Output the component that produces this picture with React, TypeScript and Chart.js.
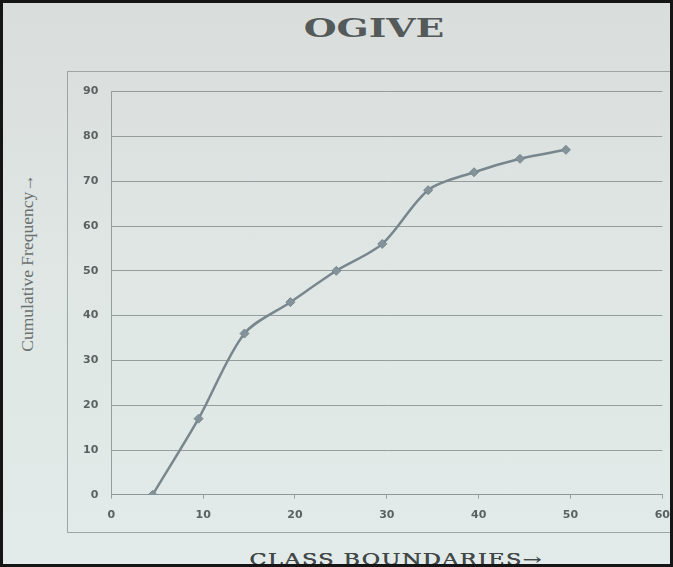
import React, { useEffect, useRef } from "react";
import { Chart, registerables } from "chart.js";

Chart.register(...registerables);

// ---- data ----
const chartTitle = "OGIVE";
const xAxisTitle = "CLASS BOUNDARIES→";
const yAxisTitle = "Cumulative Frequency→";
const classBoundaries = [4.5, 9.5, 14.5, 19.5, 24.5, 29.5, 34.5, 39.5, 44.5, 49.5];
const cumulativeFrequency = [0, 17, 36, 43, 50, 56, 68, 72, 75, 77];
const xTickValues = [0, 10, 20, 30, 40, 50, 60];
const yTickValues = [0, 10, 20, 30, 40, 50, 60, 70, 80, 90];

export default function App() {
  const canvasRef = useRef<HTMLCanvasElement>(null);

  useEffect(() => {
    if (!canvasRef.current) return;
    const tickFont = { family: "'DejaVu Sans', sans-serif", weight: "bold" as const, size: 11 };
    const chart = new Chart(canvasRef.current, {
      type: "scatter",
      data: {
        datasets: [
          {
            data: classBoundaries.map((x, i) => ({ x, y: cumulativeFrequency[i] })),
            showLine: true,
            borderColor: "#78878e",
            backgroundColor: "#84939a",
            borderWidth: 2.5,
            tension: 0.3,
            pointStyle: "rectRot",
            pointRadius: 4.5,
            pointBorderWidth: 1,
            pointBorderColor: "#78878e",
          },
        ],
      },
      options: {
        responsive: false,
        maintainAspectRatio: false,
        animation: false,
        layout: { padding: { left: 2, right: 4, top: 11, bottom: 0 } },
        plugins: {
          legend: { display: false },
          tooltip: { enabled: false },
          title: { display: false },
        },
        scales: {
          x: {
            type: "linear",
            min: 0,
            max: 60,
            afterBuildTicks: (s: any) => {
              s.ticks = xTickValues.map((v) => ({ value: v }));
            },
            grid: {
              display: true,
              drawOnChartArea: false,
              drawTicks: true,
              tickLength: 4,
              color: "#9aa1a1",
            },
            border: { display: true, color: "#8f9797", width: 1 },
            ticks: { padding: 10, color: "#5b6161", font: tickFont },
          },
          y: {
            type: "linear",
            min: 0,
            max: 90,
            afterBuildTicks: (s: any) => {
              s.ticks = yTickValues.map((v) => ({ value: v }));
            },
            grid: { color: "#959c9c", drawTicks: false, lineWidth: 1 },
            border: { display: true, color: "#959c9c", width: 1 },
            ticks: { padding: 13, color: "#5b6161", font: tickFont },
          },
        },
      },
    });
    return () => chart.destroy();
  }, []);

  return (
    <div
      style={{
        position: "fixed",
        left: 0,
        top: 0,
        width: 673,
        height: 567,
        overflow: "hidden",
        background: "linear-gradient(180deg, #d9dddc 0%, #dfe6e4 45%, #e2ebe9 100%)",
      }}
    >
      <div
        style={{
          position: "absolute",
          left: 224,
          top: 15,
          width: 300,
          textAlign: "center",
          fontFamily: "'DejaVu Serif', serif",
          fontWeight: "bold",
          fontSize: 26,
          lineHeight: "26px",
          color: "#545959",
          transform: "scaleX(1.45)",
        }}
      >
        {chartTitle}
      </div>

      <div
        style={{
          position: "absolute",
          left: -73,
          top: 253,
          width: 200,
          height: 20,
          lineHeight: "20px",
          textAlign: "center",
          fontFamily: "'Liberation Serif', serif",
          fontSize: 17.5,
          color: "#6b7171",
          transform: "rotate(-90deg)",
          whiteSpace: "nowrap",
        }}
      >
        {yAxisTitle}
      </div>

      <div
        style={{
          position: "absolute",
          left: 67,
          top: 71,
          width: 630,
          height: 460,
          border: "1px solid #9ea5a5",
        }}
      >
        <canvas ref={canvasRef} width={612} height={460} style={{ display: "block" }} />
      </div>

      <div
        style={{
          position: "absolute",
          left: 246,
          top: 552,
          width: 300,
          textAlign: "center",
          fontFamily: "'DejaVu Serif', serif",
          fontSize: 16,
          lineHeight: "16px",
          letterSpacing: 1,
          color: "#424747",
          whiteSpace: "nowrap",
          transform: "scaleX(1.4)",
          textShadow: "0.4px 0 0 #424747",
        }}
      >
        {xAxisTitle}
      </div>

      <div
        style={{
          position: "absolute",
          left: 0,
          top: 0,
          width: 673,
          height: 567,
          boxSizing: "border-box",
          border: "3px solid #151515",
          pointerEvents: "none",
        }}
      />
    </div>
  );
}
